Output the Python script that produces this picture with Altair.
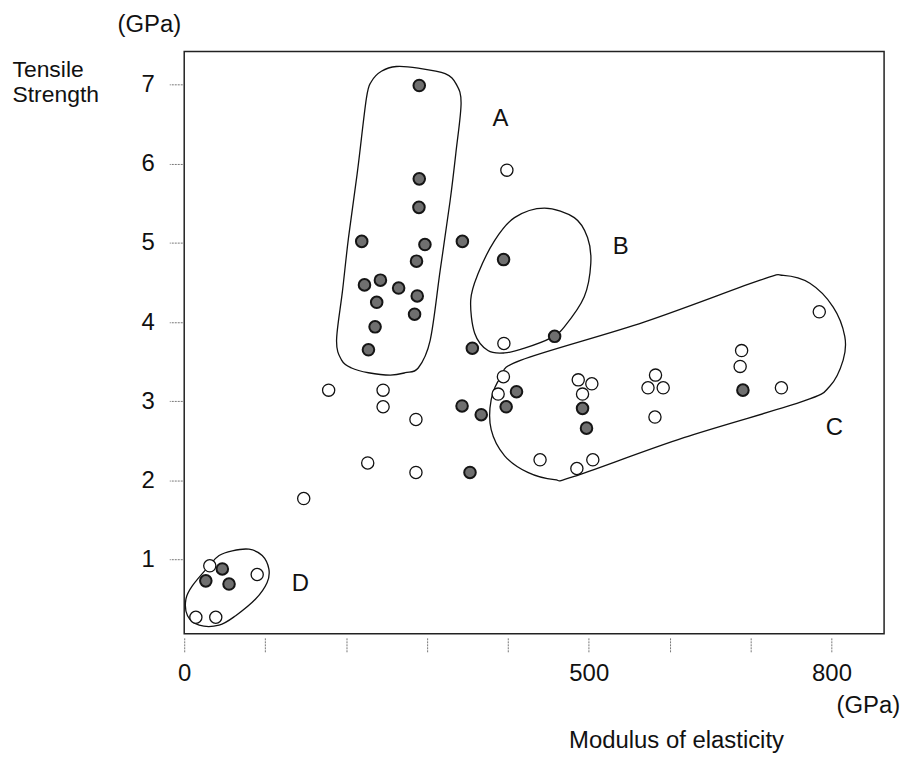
import altair as alt
import pandas as pd

# ---- data ----
filled_x = [290.5, 290.5, 290.1, 219.4, 297.5, 343.8, 394.7, 287.1, 222.8, 242.5,
            265.0, 288.0, 237.9, 284.7, 235.9, 227.7, 356.1, 457.8, 410.7, 343.4,
            397.9, 367.1, 492.3, 497.2, 690.5, 353.2, 47.1, 26.7, 55.4]
filled_y = [6.99, 5.81, 5.45, 5.02, 4.98, 5.02, 4.79, 4.77, 4.47, 4.53,
            4.43, 4.33, 4.25, 4.10, 3.94, 3.65, 3.67, 3.82, 3.12, 2.94,
            2.93, 2.83, 2.91, 2.66, 3.14, 2.10, 0.88, 0.73, 0.69]

open_x = [398.8, 395.1, 394.5, 388.0, 178.5, 245.8, 245.8, 286.4, 226.8, 286.4,
          147.7, 487.0, 503.8, 492.3, 439.8, 485.3, 505.0, 582.5, 573.2, 592.0,
          581.8, 688.9, 687.1, 738.1, 784.9, 31.6, 90.2, 14.4, 39.0]
open_y = [5.92, 3.73, 3.31, 3.09, 3.14, 3.14, 2.93, 2.77, 2.22, 2.10,
          1.77, 3.27, 3.22, 3.09, 2.26, 2.15, 2.26, 3.33, 3.17, 3.17,
          2.80, 3.64, 3.44, 3.17, 4.13, 0.92, 0.81, 0.27, 0.27]

# group outlines (vertices, data units)
outline_A_x = [262.2, 289.2, 322.5, 336.0, 342.2, 336.0, 328.6, 316.3, 304.0, 289.2,
               273.2, 254.8, 227.7, 206.8, 194.5, 188.3, 195.7, 203.1, 214.2, 225.2,
               231.4, 243.7]
outline_A_y = [7.23, 7.21, 7.14, 7.01, 6.77, 6.16, 5.53, 4.65, 3.77, 3.42,
               3.36, 3.33, 3.36, 3.42, 3.52, 3.77, 4.40, 5.07, 5.91, 6.83,
               7.04, 7.17]
outline_B_x = [445.2, 482.1, 498.5, 502.5, 494.4, 469.8, 453.3, 420.6, 395.9, 375.4,
               359.0, 354.1, 363.1, 383.6, 408.2]
outline_B_y = [5.44, 5.32, 5.07, 4.74, 4.32, 3.94, 3.80, 3.67, 3.61, 3.64,
               3.86, 4.28, 4.61, 5.03, 5.32]
outline_C_x = [416.4, 568.3, 711.8, 740.6, 773.3, 802.1, 816.4, 814.4, 797.9, 765.2,
               617.5, 482.1, 457.5, 424.6, 396.0, 379.4, 379.4, 391.8]
outline_C_y = [3.52, 4.00, 4.53, 4.59, 4.49, 4.19, 3.82, 3.52, 3.19, 3.00,
               2.54, 2.05, 2.01, 2.10, 2.31, 2.64, 3.02, 3.31]
outline_D_x = [59.4, 80.0, 96.4, 104.6, 102.5, 88.2, 63.6, 43.1, 18.5, 4.1,
               2.1, 10.2, 30.8, 43.1]
outline_D_y = [1.11, 1.13, 1.05, 0.88, 0.71, 0.50, 0.29, 0.17, 0.17, 0.29,
               0.50, 0.67, 0.92, 1.05]

note_text = ["A", "B", "C", "D", "(GPa)", "(GPa)"]
note_x = [391.0, 539.4, 803.7, 143.6, -43.1, 845.5]
note_y = [6.48, 4.86, 2.57, 0.60, 7.66, -0.94]

x_ticks = [0, 100, 200, 300, 400, 500, 600, 700, 800]
y_ticks = [1, 2, 3, 4, 5, 6, 7]

# ---- tables ----
filled_df = pd.DataFrame({"x": filled_x, "y": filled_y})
open_df = pd.DataFrame({"x": open_x, "y": open_y})
rows = []
for name, xs, ys in [("A", outline_A_x, outline_A_y), ("B", outline_B_x, outline_B_y),
                     ("C", outline_C_x, outline_C_y), ("D", outline_D_x, outline_D_y)]:
    for i, (a, b) in enumerate(zip(xs, ys)):
        rows.append({"group": name, "idx": i, "x": a, "y": b})
outline_df = pd.DataFrame(rows)
note_df = pd.DataFrame({"x": note_x, "y": note_y, "t": note_text})

FONT = "Liberation Sans"

xscale = alt.Scale(domain=[0, 865], nice=False, zero=False)
yscale = alt.Scale(domain=[0.06, 7.42], nice=False, zero=False)

xaxis = alt.Axis(
    values=x_ticks,
    labelExpr="(datum.value==0||datum.value==500||datum.value==800)?datum.label:''",
    domain=False, grid=False, tickSize=14, offset=4, tickColor="#777",
    tickDash=[2, 1], tickWidth=1, labelPadding=10, labelFontSize=24, labelFont=FONT,
    labelColor="#111", labelFlush=False,
    title="Modulus of elasticity", titleFont=FONT, titleFontSize=24,
    titleFontWeight="normal", titleColor="#111", titleX=494, titleY=110,
    titleAlign="center", titleBaseline="alphabetic",
)
yaxis = alt.Axis(
    values=y_ticks, format="d", domain=False, grid=False, tickSize=13, offset=2,
    tickColor="#777", tickDash=[2, 1], tickWidth=1, labelPadding=15,
    labelFontSize=24, labelFont=FONT, labelColor="#111", labelFlush=False,
    title=["Tensile", "Strength"], titleFont=FONT, titleFontSize=23,
    titleFontWeight="normal", titleColor="#111", titleAngle=0, titleAlign="left",
    titleBaseline="alphabetic", titleX=-171, titleY=25, titleLineHeight=25,
)

outlines = alt.Chart(outline_df).mark_line(
    interpolate="cardinal-closed", color="#111", strokeWidth=1.3
).encode(
    x=alt.X("x:Q", scale=xscale, axis=xaxis),
    y=alt.Y("y:Q", scale=yscale, axis=yaxis),
    detail="group:N",
    order="idx:Q",
)

open_pts = alt.Chart(open_df).mark_circle(
    size=150, fill="white", stroke="#111", strokeWidth=1.3, opacity=1
).encode(x=alt.X("x:Q", scale=xscale), y=alt.Y("y:Q", scale=yscale))

filled_pts = alt.Chart(filled_df).mark_circle(
    size=135, fill="#6f6f6f", stroke="#151515", strokeWidth=2, opacity=1
).encode(x=alt.X("x:Q", scale=xscale), y=alt.Y("y:Q", scale=yscale))

notes = alt.Chart(note_df).mark_text(
    font=FONT, fontSize=24, color="#111", align="center", baseline="alphabetic"
).encode(x=alt.X("x:Q", scale=xscale), y=alt.Y("y:Q", scale=yscale), text="t:N")

chart = alt.layer(outlines, open_pts, filled_pts, notes).properties(
    width=703, height=585,
    autosize=alt.AutoSizeParams(type="none"),
    padding={"left": 177, "top": 42, "right": 20, "bottom": 118},
    background="white",
).configure_view(stroke="#222", strokeWidth=1.5)

chart.save("out.html", embed_options={"renderer": "svg", "actions": False})
